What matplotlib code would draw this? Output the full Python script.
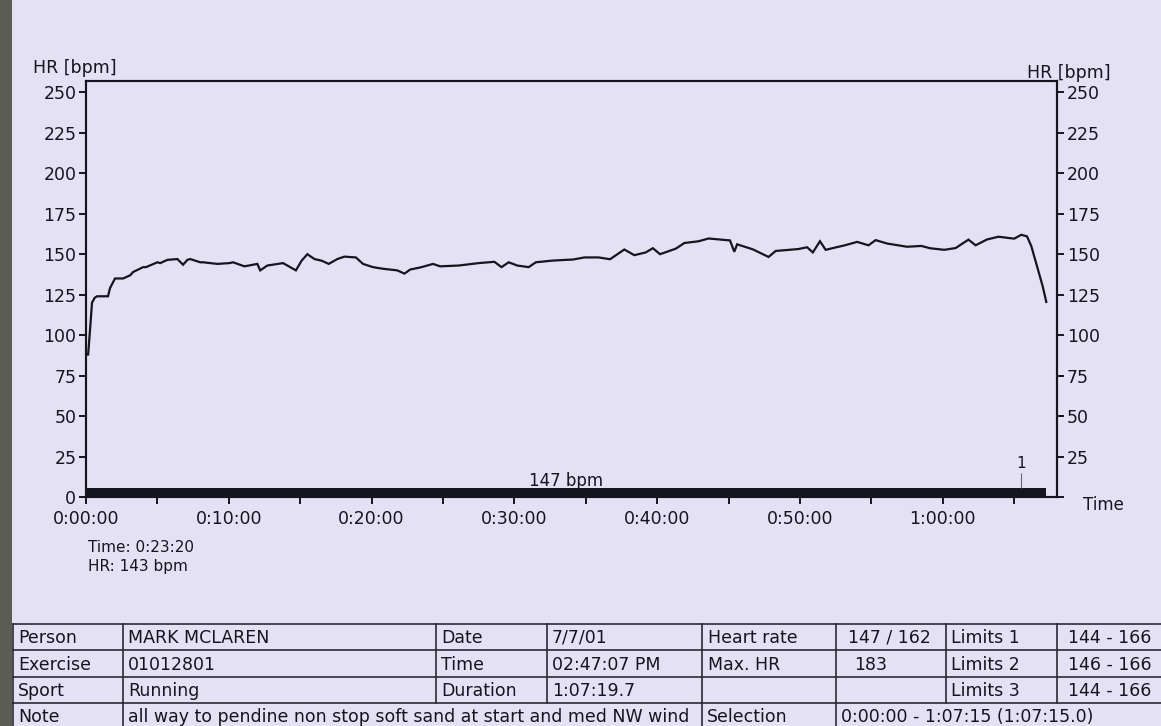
import matplotlib
matplotlib.use("Agg")
import matplotlib.pyplot as plt
from matplotlib.patches import Rectangle
from matplotlib.transforms import Bbox, TransformedBbox

plt.rcParams['font.family'] = ['DejaVu Sans']

# ---------------- data ----------------
time_min = [0, 0.15, 0.28, 0.42, 0.6, 0.77, 1.54, 1.68, 2.03, 2.6, 3.1, 3.3, 4.0, 4.2,
            5.0, 5.2, 5.7, 6.4, 6.8, 7.1, 7.3, 8.0, 8.2, 9.2, 10.05, 10.3, 11.1, 12.0,
            12.2, 12.7, 13.8, 14.7, 15.1, 15.5, 16.0, 16.5, 17.0, 17.6, 18.1, 18.9, 19.4,
            20.1, 20.8, 21.8, 22.3, 22.7, 23.5, 24.3, 24.8, 26.1, 27.5, 28.6, 29.1, 29.6,
            30.2, 31.0, 31.5, 32.6, 33.6, 34.1, 34.9, 35.9, 36.7, 37.7, 38.4, 39.2, 39.7,
            40.2, 41.3, 41.9, 42.9, 43.6, 45.1, 45.4, 45.6, 46.7, 47.8, 48.3, 49.9, 50.5,
            50.9, 51.4, 51.8, 52.6, 53.1, 54.0, 54.8, 55.3, 56.1, 57.5, 58.5, 59.1, 60.1,
            60.9, 61.8, 62.3, 63.1, 63.9, 65.0, 65.5, 65.9, 66.2, 66.6, 67.0, 67.25]
heart_rate = [88, 88, 103, 120, 123, 124, 124, 129, 135, 135, 137, 139, 142, 142,
              145, 144.5, 146.5, 147, 143.5, 146.5, 147, 145, 145, 144, 144.5, 145, 142.5, 144,
              140, 143, 144.5, 140, 146, 150, 147, 146, 144, 147, 148.5, 148, 144,
              142, 141, 140, 138, 140.5, 142, 144, 142.5, 143, 144.5, 145.3, 142, 145,
              143, 142, 145, 146, 146.5, 146.7, 148, 148, 146.9, 152.9, 149.4, 151.1, 153.7,
              150, 153.4, 156.9, 158, 159.7, 158.5, 151.5, 156.1, 153, 148.3, 152, 153.2, 154.3,
              151.1, 158, 152.7, 154.4, 155.4, 157.6, 155.5, 158.7, 156.6, 154.6, 155.1, 153.7, 152.7,
              153.8, 159, 155.5, 159.1, 160.8, 159.6, 162, 161, 155, 142.6, 130.1, 120.5]

selection_start = 0.0
selection_end = 67.25
selection_avg_label = "147 bpm"
lap_times = [65.5]
lap_labels = ["1"]

y_ticks = [0, 25, 50, 75, 100, 125, 150, 175, 200, 225, 250]
x_major_ticks = [0, 10, 20, 30, 40, 50, 60]
x_major_labels = ["0:00:00", "0:10:00", "0:20:00", "0:30:00", "0:40:00", "0:50:00", "1:00:00"]
x_minor_ticks = [5, 15, 25, 35, 45, 55, 65]

cursor_text = ["Time: 0:23:20", "HR: 143 bpm"]

table_rows = [
    ["Person", "MARK MCLAREN", "Date", "7/7/01", "Heart rate", "147 / 162", "Limits 1", "144 - 166"],
    ["Exercise", "01012801", "Time", "02:47:07 PM", "Max. HR", "183", "Limits 2", "146 - 166"],
    ["Sport", "Running", "Duration", "1:07:19.7", "", "", "Limits 3", "144 - 166"],
]
note_row = ["Note", "all way to pendine non stop soft sand at start and med NW wind",
            "Selection", "0:00:00 - 1:07:15 (1:07:15.0)"]

# ---------------- figure ----------------
W, H = 1161, 726
BG = '#e4e1f4'
INK = '#15151f'
fig = plt.figure(figsize=(W / 100, H / 100), dpi=100, facecolor=BG)

# overlay in pixel coords for page decorations and the table
ov = fig.add_axes([0, 0, 1, 1], zorder=0)
ov.set_xlim(0, W)
ov.set_ylim(H, 0)
ov.axis('off')
ov.add_patch(Rectangle((0, 0), 12, H, facecolor='#5b5c52', edgecolor='none'))

# main chart
ax = fig.add_axes([86 / W, (H - 497) / H, (1057 - 86) / W, (497 - 81) / H], zorder=2)
ax.set_facecolor('none')
ax.set_xlim(0, 68.0)
ax.set_ylim(0, 257)

ax.plot(time_min, heart_rate, color=INK, lw=1.6, solid_joinstyle='miter', zorder=3)
ax.broken_barh([(selection_start, selection_end - selection_start)], (0, 5.5),
               facecolor=INK, edgecolor='none', zorder=2)
ax.text((selection_start + selection_end) / 2, 10, selection_avg_label, ha='center',
        va='center', fontsize=12, color=INK)
for lt, ll in zip(lap_times, lap_labels):
    ax.vlines(lt, 5.5, 15, color='#666670', lw=0.8)
    ax.text(lt, 21, ll, ha='center', va='center', fontsize=11, color=INK)

for s in ax.spines.values():
    s.set_linewidth(1.5)
    s.set_color(INK)

ax.set_yticks(y_ticks)
ax.set_yticklabels([str(v) for v in y_ticks])
ax.set_xticks(x_major_ticks)
ax.set_xticklabels(x_major_labels)
ax.set_xticks(x_minor_ticks, minor=True)
ax.tick_params(axis='both', which='both', direction='out', length=5, width=1.4,
               colors=INK, labelsize=12.5, pad=2)
ax.tick_params(axis='x', which='major', pad=4)

ax2 = ax.twinx()
ax2.set_ylim(0, 257)
ax2.set_yticks(y_ticks)
ax2.set_yticklabels([''] + [str(v) for v in y_ticks[1:]])
ax2.tick_params(axis='y', direction='out', length=5, width=1.4, colors=INK,
                labelsize=12.5, pad=2)
for s in ax2.spines.values():
    s.set_linewidth(1.5)
    s.set_color(INK)

# axis titles
ov.text(33, 68, "HR [bpm]", ha='left', va='center', fontsize=12.5, color=INK)
ov.text(1027, 73, "HR [bpm]", ha='left', va='center', fontsize=12.5, color=INK)
ov.text(1083, 505, "Time", ha='left', va='center', fontsize=12, color=INK)
ov.text(88, 548, cursor_text[0], ha='left', va='center', fontsize=11, color=INK)
ov.text(88, 566, cursor_text[1], ha='left', va='center', fontsize=11, color=INK)

# ---------------- table ----------------
row_y = [624, 650, 677, 703, 729]
col_x = [13, 123, 436, 547, 702, 836, 946, 1057, W]
pads = [5, 5, 5, 5, 6, 12, 5, 11]
LC = '#2a2a35'
for y in row_y[:4]:
    ov.plot([13, W], [y, y], color=LC, lw=1.2)
for x in col_x[:-1]:
    ov.plot([x, x], [row_y[0], row_y[3]], color=LC, lw=1.2)
for x in [13, 123, 702, 836]:
    ov.plot([x, x], [row_y[3], H], color=LC, lw=1.2)

for r, row in enumerate(table_rows):
    yc = (row_y[r] + row_y[r + 1]) / 2 + 1
    for c, txt in enumerate(row):
        pad = pads[c]
        if r == 1 and c == 5:
            pad = 18
        ov.text(col_x[c] + pad, yc, txt, ha='left', va='center', fontsize=12.5, color=INK)

yc = (row_y[3] + row_y[4]) / 2 + 1
note_x = [13, 123, 702, 836]
for c, txt in enumerate(note_row):
    t = ov.text(note_x[c] + 5, yc, txt, ha='left', va='center', fontsize=12.5, color=INK)
    if c == 1:
        t.set_clip_box(TransformedBbox(Bbox([[123 / W, 0], [701 / W, 1]]), fig.transFigure))
        t.set_clip_on(True)

fig.savefig("out.png", dpi=100, facecolor=BG)
